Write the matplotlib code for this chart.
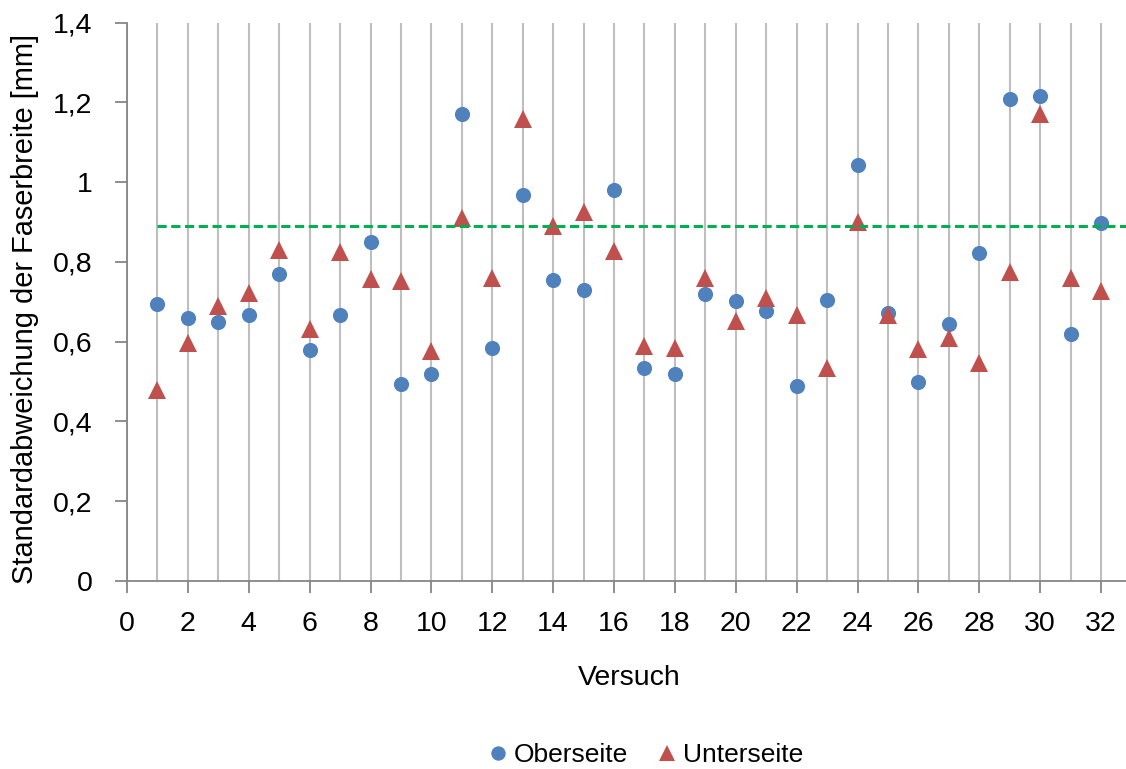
import matplotlib
matplotlib.use("Agg")
import matplotlib.pyplot as plt
from matplotlib.ticker import FixedLocator, FixedFormatter

plt.rcParams['font.family'] = ['Liberation Sans', 'DejaVu Sans']

# Versuchsnummern
versuch = list(range(1, 33))

# Standardabweichung der Faserbreite [mm]
oberseite = [0.695, 0.660, 0.648, 0.666, 0.770, 0.578, 0.667, 0.850, 0.493, 0.519,
             1.171, 0.584, 0.967, 0.754, 0.729, 0.979, 0.534, 0.519, 0.720, 0.703,
             0.677, 0.490, 0.704, 1.043, 0.672, 0.499, 0.645, 0.823, 1.209, 1.215,
             0.619, 0.898]
unterseite = [0.478, 0.596, 0.690, 0.722, 0.830, 0.632, 0.824, 0.757, 0.751, 0.577,
              0.909, 0.760, 1.159, 0.891, 0.924, 0.826, 0.589, 0.585, 0.759, 0.652,
              0.709, 0.666, 0.533, 0.899, 0.667, 0.582, 0.609, 0.546, 0.774, 1.170,
              0.759, 0.726]

# Grenzwert (gestrichelte Linie)
grenzwert = 0.89

x_ticks = list(range(0, 33, 2))
x_ticklabels = [str(v) for v in x_ticks]
y_ticks = [0, 0.2, 0.4, 0.6, 0.8, 1.0, 1.2, 1.4]
y_ticklabels = ['0', '0,2', '0,4', '0,6', '0,8', '1', '1,2', '1,4']

blue = '#4F81BD'
red = '#C0504D'
green = '#00B050'
grid_gray = '#BFBFBF'
axis_gray = '#868686'

W, H = 1126, 769
fig = plt.figure(figsize=(W / 100, H / 100), dpi=100)
left_px, right_px, top_px, bottom_px = 127, 1131.5, 22.5, 581
ax = fig.add_axes([left_px / W, 1 - bottom_px / H,
                   (right_px - left_px) / W, (bottom_px - top_px) / H])

ax.set_xlim(0, 33)
ax.set_ylim(0, 1.4)

ax.plot(versuch, oberseite, linestyle='none', marker='o', markersize=10.9,
        color=blue, markeredgewidth=0, label='Oberseite', zorder=3)
ax.plot(versuch, unterseite, linestyle='none', marker='^', markersize=12.8,
        color=red, markeredgewidth=0, label='Unterseite', zorder=3)
ax.hlines(grenzwert, versuch[0], 33, colors=green, linewidth=2.2,
          linestyles=(0, (3, 1.5)), zorder=4)

# Achsen und Gitter
ax.xaxis.set_major_locator(FixedLocator(x_ticks))
ax.xaxis.set_major_formatter(FixedFormatter(x_ticklabels))
ax.xaxis.set_minor_locator(FixedLocator([v for v in versuch if v % 2 == 1]))
ax.yaxis.set_major_locator(FixedLocator(y_ticks))
ax.yaxis.set_major_formatter(FixedFormatter(y_ticklabels))
ax.set_axisbelow(True)
ax.grid(True, axis='x', which='both', color=grid_gray, linewidth=1.5)
ax.grid(False, axis='y')

for side in ('top', 'right'):
    ax.spines[side].set_visible(False)
for side in ('left', 'bottom'):
    ax.spines[side].set_color(axis_gray)
    ax.spines[side].set_linewidth(1.3)

ax.tick_params(axis='x', which='major', direction='out', length=8.3, width=1.3,
               color=axis_gray, labelsize=20.5, pad=13.5, labelcolor='black')
ax.tick_params(axis='x', which='minor', length=0)
ax.tick_params(axis='y', which='major', direction='out', length=8.3, width=1.3,
               color=axis_gray, labelsize=20.5, pad=16.5, labelcolor='black')

fig.text(629 / W, 1 - 678 / H, 'Versuch', ha='center', va='center', fontsize=20.5)
fig.text(25 / W, 1 - 308.5 / H, 'Standardabweichung der Faserbreite [mm]',
         rotation=90, ha='center', va='center', fontsize=20.9)

fig.legend(loc='center', bbox_to_anchor=(644 / W, 1 - 755 / H), ncol=2,
           frameon=False, fontsize=19, handletextpad=0.1, columnspacing=1.0,
           handlelength=1.0, markerscale=0.95)

fig.savefig('out.png', dpi=100, facecolor='white')
